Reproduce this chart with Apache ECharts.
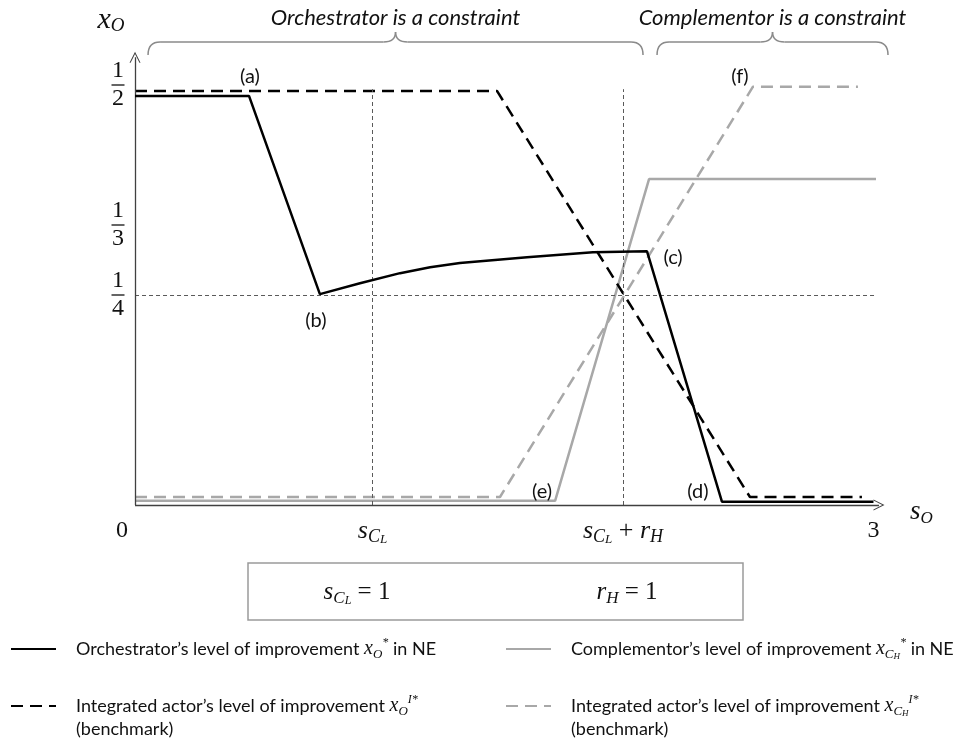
<!DOCTYPE html>
<html>
<head>
<meta charset="utf-8">
<script src="https://cdn.jsdelivr.net/npm/echarts@6/dist/echarts.min.js"></script>
<style>
  html, body { margin: 0; padding: 0; background: #fff; }
  #chart { width: 964px; height: 746px; }
</style>
</head>
<body>
<div id="chart"></div>
<script>
// Orchestrator's level of improvement in NE (black, solid)
const orchNE_s = [0.052, 0.507, 0.790, 0.950, 1.110, 1.230, 1.349, 1.617, 1.880, 2.096, 2.395, 3.0];
const orchNE_x = [0.487, 0.487, 0.251, 0.264, 0.276, 0.283, 0.288, 0.295, 0.301, 0.302, 0.004, 0.004];
// Integrated actor's level of improvement x_O (black, dashed)
const integO_s = [0.052, 1.497, 2.507, 2.954];
const integO_x = [0.493, 0.493, 0.0095, 0.0095];
// Complementor's level of improvement in NE (grey, solid)
const complNE_s = [0.052, 1.729, 2.104, 3.01];
const complNE_x = [0.005, 0.005, 0.388, 0.388];
// Integrated actor's level of improvement x_CH (grey, dashed)
const integC_s = [0.052, 1.509, 2.519, 2.938];
const integC_x = [0.0095, 0.0095, 0.498, 0.498];

// Axis ticks
const xTicks = [0, 1, 2, 3];
const xTickLabels = ['{n|0}', '{i|s}{c|C}{l|L}', '{i|s}{c|C}{l|L}{o| + }{i|r}{c|H}', '{n|3}'];
const yTicks = [1 / 4, 1 / 3, 1 / 2];
const yTickLabels = [['1', '4'], ['1', '3'], ['1', '2']];

// Reference levels (s_CL = 1, s_CL + r_H = 2, x = 1/4)
const sCL = 1;
const rH = 1;
const guideTop = 0.495;
const quarter = 1 / 4;
const axisS = orchNE_s[0];   // where the vertical axis stands
const axisTopX = 0.533;
const axisEndS = 3.022;

// Annotated kink points
const pointTags = ['(a)', '(b)', '(c)', '(d)', '(e)', '(f)'];

// Regimes shown by the braces above the plot
const regimeNames = ['Orchestrator is a constraint', 'Complementor is a constraint'];
const regimeSpans = [[0.104, 2.080], [2.136, 3.058]];

const SERIF = "'Liberation Serif', 'DejaVu Serif', serif";
const SANS = "Lato, 'Noto Sans', sans-serif";
const BLACK = '#000000';
const GREY = '#a8a8a8';
const AXIS = '#404040';
const GUIDE = '#5a5a5a';
const DASH = [12, 7];
const CHEVRON = 'path://M0,10 L5,0 L10,10 L9,10 L5,2 L1,10 Z';

const zip = (a, b) => a.map((v, i) => [v, b[i]]);

const mathRich = {
  t: { fontFamily: SANS, fontSize: 18, lineHeight: 23, color: '#111' },
  x: { fontFamily: SERIF, fontStyle: 'italic', fontSize: 20, lineHeight: 24, color: '#111' },
  sb: { fontFamily: SERIF, fontStyle: 'italic', fontSize: 13, lineHeight: 12, verticalAlign: 'bottom', color: '#111' },
  ssb: { fontFamily: SERIF, fontStyle: 'italic', fontSize: 9, lineHeight: 8, verticalAlign: 'bottom', color: '#111' },
  sp: { fontFamily: SERIF, fontStyle: 'italic', fontSize: 12, lineHeight: 12, verticalAlign: 'top', color: '#111' }
};

const legendText = {
  orchNE: '{t|Orchestrator’s level of improvement }{x|x}{sb|O}{sp|*}{t| in NE}',
  complNE: '{t|Complementor’s level of improvement }{x|x}{sb|C}{ssb|H}{sp|*}{t| in NE}',
  integO: '{t|Integrated actor’s level of improvement }{x|x}{sb|O}{sp|I*}\n{t|(benchmark)}',
  integC: '{t|Integrated actor’s level of improvement }{x|x}{sb|C}{ssb|H}{sp|I*}\n{t|(benchmark)}'
};

function legendAt(name, left, top, twoLines) {
  return {
    data: [name],
    left: left,
    top: top,
    padding: 0,
    itemWidth: 45,
    itemHeight: 14,
    selectedMode: false,
    itemStyle: { opacity: 0 },
    formatter: n => legendText[n],
    textStyle: {
      // a two-line entry keeps its first line level with the key
      padding: twoLines ? [23, 0, 0, 15] : [0, 0, 0, 15],
      rich: mathRich
    }
  };
}

const tagLabel = {
  show: true,
  position: 'inside',
  color: '#111',
  fontFamily: SANS,
  fontSize: 20
};

function tag(text, coord, offset) {
  return {
    coord: coord,
    label: Object.assign({}, tagLabel, { formatter: text, offset: offset })
  };
}

const tagStyle = {
  symbol: 'circle',
  symbolSize: 1,
  silent: true,
  itemStyle: { color: 'rgba(0,0,0,0)' },
  label: tagLabel
};

const chart = echarts.init(document.getElementById('chart'), null, { renderer: 'canvas' });

chart.setOption({
  animation: false,
  backgroundColor: '#ffffff',
  grid: { left: 122, top: 43, width: 764, height: 462 },
  xAxis: {
    type: 'value',
    min: 0,
    max: 3.05,
    axisLine: { show: false },
    axisTick: { show: false },
    splitLine: { show: false },
    name: '{i|s}{c|O}',
    nameLocation: 'end',
    nameGap: 24,
    nameTextStyle: {
      align: 'left',
      padding: [14, 0, 0, 0],
      rich: {
        i: { fontFamily: SERIF, fontStyle: 'italic', fontSize: 27, lineHeight: 30, color: '#111' },
        c: { fontFamily: SERIF, fontStyle: 'italic', fontSize: 17, lineHeight: 18, verticalAlign: 'bottom', color: '#111' }
      }
    },
    axisLabel: {
      customValues: xTicks,
      margin: 11,
      formatter: v => xTickLabels[xTicks.indexOf(v)],
      rich: {
        n: { fontFamily: SERIF, fontSize: 24, lineHeight: 30, color: '#111' },
        i: { fontFamily: SERIF, fontStyle: 'italic', fontSize: 26, lineHeight: 30, color: '#111' },
        o: { fontFamily: SERIF, fontSize: 26, lineHeight: 30, color: '#111' },
        c: { fontFamily: SERIF, fontStyle: 'italic', fontSize: 18, lineHeight: 16, verticalAlign: 'bottom', color: '#111' },
        l: { fontFamily: SERIF, fontStyle: 'italic', fontSize: 13, lineHeight: 10, verticalAlign: 'bottom', color: '#111' }
      }
    }
  },
  yAxis: {
    type: 'value',
    min: 0,
    max: 0.55,
    axisLine: { show: false },
    axisTick: { show: false },
    splitLine: { show: false },
    name: '{i|x}{c|O}',
    nameLocation: 'end',
    nameGap: 8,
    nameTextStyle: {
      padding: [0, 22, 0, 0],
      rich: {
        i: { fontFamily: SERIF, fontStyle: 'italic', fontSize: 30, lineHeight: 30, color: '#111' },
        c: { fontFamily: SERIF, fontStyle: 'italic', fontSize: 19, lineHeight: 18, verticalAlign: 'bottom', color: '#111' }
      }
    },
    axisLabel: {
      customValues: yTicks,
      align: 'center',
      margin: 4,
      formatter: v => {
        let k = 0;
        yTicks.forEach((t, i) => { if (Math.abs(t - v) < Math.abs(yTicks[k] - v)) k = i; });
        return '{n|' + yTickLabels[k][0] + '}\n{b| }\n{n|' + yTickLabels[k][1] + '}';
      },
      rich: {
        n: { fontFamily: SERIF, fontSize: 24, lineHeight: 22, align: 'center', color: '#111' },
        b: { fontSize: 1, width: 13, height: 1.3, lineHeight: 6, align: 'center', backgroundColor: '#111' }
      }
    }
  },
  legend: [
    legendAt('orchNE', 10, 637, false),
    legendAt('complNE', 505, 637, false),
    legendAt('integO', 10, 694, true),
    legendAt('integC', 505, 694, true)
  ],
  series: [
    {
      name: 'frame',
      type: 'line',
      data: [],
      silent: true,
      z: 1,
      markLine: {
        silent: true,
        animation: false,
        symbol: ['none', 'none'],
        label: { show: false },
        lineStyle: { color: GUIDE, width: 1, type: [4, 3] },
        data: [
          [{ coord: [sCL, 0] }, { coord: [sCL, guideTop] }],
          [{ coord: [sCL + rH, 0] }, { coord: [sCL + rH, guideTop] }],
          [{ coord: [axisS, quarter] }, { coord: [3.006, quarter] }],
          [{ coord: [axisS, 0], symbol: 'none', lineStyle: { color: AXIS, width: 1.3, type: 'solid' } },
           { coord: [axisS, axisTopX], symbol: CHEVRON, symbolSize: [11, 11] }],
          [{ coord: [axisS, 0], symbol: 'none', lineStyle: { color: AXIS, width: 1.3, type: 'solid' } },
           { coord: [axisEndS, 0], symbol: CHEVRON, symbolSize: [11, 11] }]
        ]
      }
    },
    {
      name: 'integC',
      type: 'line',
      data: zip(integC_s, integC_x),
      symbol: 'none',
      z: 2,
      color: GREY,
      lineStyle: { color: GREY, width: 2.5, type: DASH },
      markPoint: Object.assign({}, tagStyle, {
        data: [tag(pointTags[5], [integC_s[2], integC_x[2]], [-13, -10])]
      })
    },
    {
      name: 'complNE',
      type: 'line',
      data: zip(complNE_s, complNE_x),
      symbol: 'none',
      z: 3,
      color: GREY,
      lineStyle: { color: GREY, width: 2.5 },
      markPoint: Object.assign({}, tagStyle, {
        data: [tag(pointTags[4], [complNE_s[1], complNE_x[1]], [-13, -9])]
      })
    },
    {
      name: 'integO',
      type: 'line',
      data: zip(integO_s, integO_x),
      symbol: 'none',
      z: 4,
      color: BLACK,
      lineStyle: { color: BLACK, width: 2.5, type: DASH }
    },
    {
      name: 'orchNE',
      type: 'line',
      data: zip(orchNE_s, orchNE_x),
      symbol: 'none',
      z: 5,
      color: BLACK,
      lineStyle: { color: BLACK, width: 2.5 },
      markPoint: Object.assign({}, tagStyle, {
        data: [
          tag(pointTags[0], [orchNE_s[1], orchNE_x[1]], [1, -19]),
          tag(pointTags[1], [orchNE_s[2], orchNE_x[2]], [-4, 26]),
          tag(pointTags[2], [orchNE_s[9], orchNE_x[9]], [26, 6]),
          tag(pointTags[3], [orchNE_s[10], orchNE_x[10]], [-24, -10])
        ]
      })
    }
  ]
});

// Braces (curly, opening downwards) with the regime captions
const braceStyle = { fill: 'none', stroke: '#8a8a8a', lineWidth: 1.5 };

function braceParts(x1, x2, yEnd, yLine, yTip) {
  const xc = (x1 + x2) / 2;
  const r = 12;
  const q = (ax, ay, cx, cy, bx, by) => ({
    type: 'bezierCurve', silent: true,
    shape: { x1: ax, y1: ay, cpx1: cx, cpy1: cy, x2: bx, y2: by },
    style: braceStyle
  });
  const l = (ax, bx) => ({
    type: 'line', silent: true,
    shape: { x1: ax, y1: yLine, x2: bx, y2: yLine },
    style: braceStyle
  });
  return [
    q(x1, yEnd, x1, yLine, x1 + r, yLine),
    l(x1 + r, xc - r),
    q(xc - r, yLine, xc, yLine, xc, yTip),
    q(xc, yTip, xc, yLine, xc + r, yLine),
    l(xc + r, x2 - r),
    q(x2 - r, yLine, x2, yLine, x2, yEnd)
  ];
}

let graphics = [];
regimeSpans.forEach((span, i) => {
  const p1 = chart.convertToPixel({ gridIndex: 0 }, [span[0], 0]);
  const p2 = chart.convertToPixel({ gridIndex: 0 }, [span[1], 0]);
  graphics = graphics.concat(braceParts(p1[0], p2[0], 55, 42, 32));
  graphics.push({
    type: 'text',
    silent: true,
    x: (p1[0] + p2[0]) / 2,
    y: 18,
    style: {
      text: regimeNames[i],
      align: 'center',
      verticalAlign: 'middle',
      fontFamily: SANS,
      fontStyle: 'italic',
      fontSize: 22,
      fill: '#111'
    }
  });
});

// Parameter box
const boxRich = {
  i: { fontFamily: SERIF, fontStyle: 'italic', fontSize: 25, lineHeight: 30, fill: '#111' },
  o: { fontFamily: SERIF, fontSize: 25, lineHeight: 30, fill: '#111' },
  c: { fontFamily: SERIF, fontStyle: 'italic', fontSize: 17, lineHeight: 16, verticalAlign: 'bottom', fill: '#111' },
  l: { fontFamily: SERIF, fontStyle: 'italic', fontSize: 12, lineHeight: 10, verticalAlign: 'bottom', fill: '#111' }
};
graphics.push({
  type: 'rect',
  silent: true,
  shape: { x: 248, y: 563, width: 495, height: 57 },
  style: { fill: 'none', stroke: '#9a9a9a', lineWidth: 1.5 }
});
graphics.push({
  type: 'text',
  silent: true,
  x: 357,
  y: 592,
  style: { text: '{i|s}{c|C}{l|L}{o| = ' + sCL + '}', rich: boxRich, align: 'center', verticalAlign: 'middle' }
});
graphics.push({
  type: 'text',
  silent: true,
  x: 627,
  y: 592,
  style: { text: '{i|r}{c|H}{o| = ' + rH + '}', rich: boxRich, align: 'center', verticalAlign: 'middle' }
});

chart.setOption({ graphic: graphics });
</script>
</body>
</html>
